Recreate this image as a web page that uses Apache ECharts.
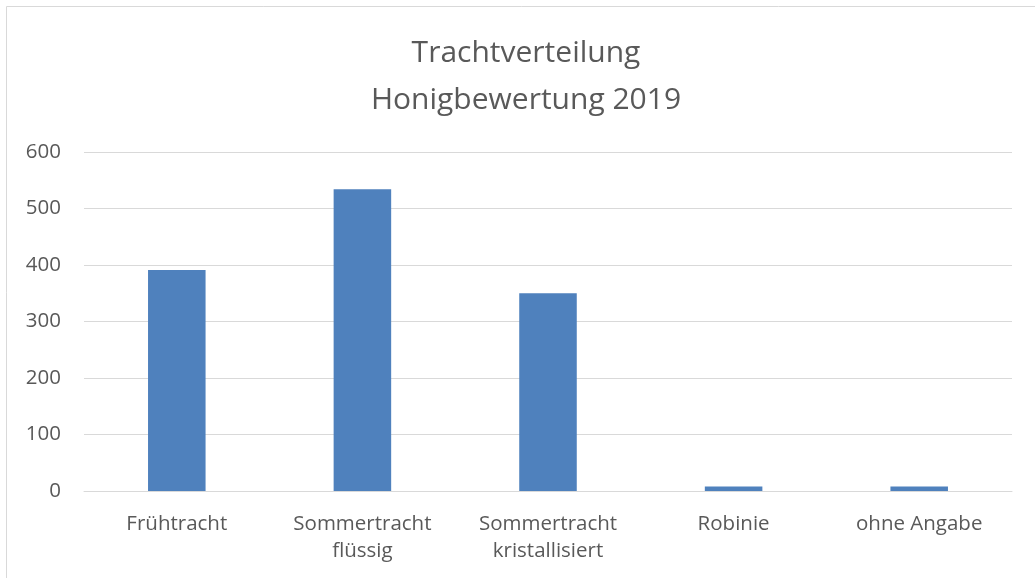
<!DOCTYPE html>
<html>
<head>
<meta charset="utf-8">
<script src="https://cdn.jsdelivr.net/npm/echarts@6/dist/echarts.min.js"></script>
<style>
  html, body { margin: 0; padding: 0; background: #fff; }
  #chart { width: 1035px; height: 578px; }
</style>
</head>
<body>
<div id="chart"></div>
<script>
// Trachtverteilung 2019
const categories = ['Frühtracht', 'Sommertracht\nflüssig', 'Sommertracht\nkristallisiert', 'Robinie', 'ohne Angabe']
const values = [391, 534, 350, 8, 8]
const yTicks = { min: 0, max: 600, interval: 100 }

const font = 'Open Sans'
const grey = '#595959'

let myChart = echarts.init(document.getElementById('chart'))
myChart.setOption({
  animation: false,
  textStyle: { fontFamily: font, color: grey },
  title: {
    text: 'Trachtverteilung\nHonigbewertung 2019',
    left: 521,
    top: 25,
    textAlign: 'center',
    textStyle: {
      fontFamily: font,
      fontWeight: 'normal',
      fontSize: 30,
      lineHeight: 47,
      color: grey
    }
  },
  graphic: [{
    type: 'rect',
    shape: { x: 6.5, y: 6.5, width: 1040, height: 600 },
    style: { fill: 'none', stroke: '#d9d9d9', lineWidth: 1 },
    silent: true
  }],
  grid: { left: 84, right: 23, top: 152, bottom: 87 },
  xAxis: {
    type: 'category',
    data: categories,
    axisTick: { show: false },
    axisLine: { lineStyle: { color: '#d9d9d9', width: 1 } },
    axisLabel: {
      color: grey,
      fontFamily: font,
      fontSize: 20.5,
      lineHeight: 27,
      margin: 20,
      interval: 0
    }
  },
  yAxis: {
    type: 'value',
    min: yTicks.min,
    max: yTicks.max,
    interval: yTicks.interval,
    axisLine: { show: false },
    axisTick: { show: false },
    splitLine: { lineStyle: { color: '#d9d9d9', width: 1 } },
    axisLabel: { color: grey, fontFamily: font, fontSize: 20.5, margin: 23 }
  },
  series: [{
    type: 'bar',
    data: values,
    barWidth: '31%',
    itemStyle: { color: '#4f81bd' }
  }]
})
</script>
</body>
</html>
